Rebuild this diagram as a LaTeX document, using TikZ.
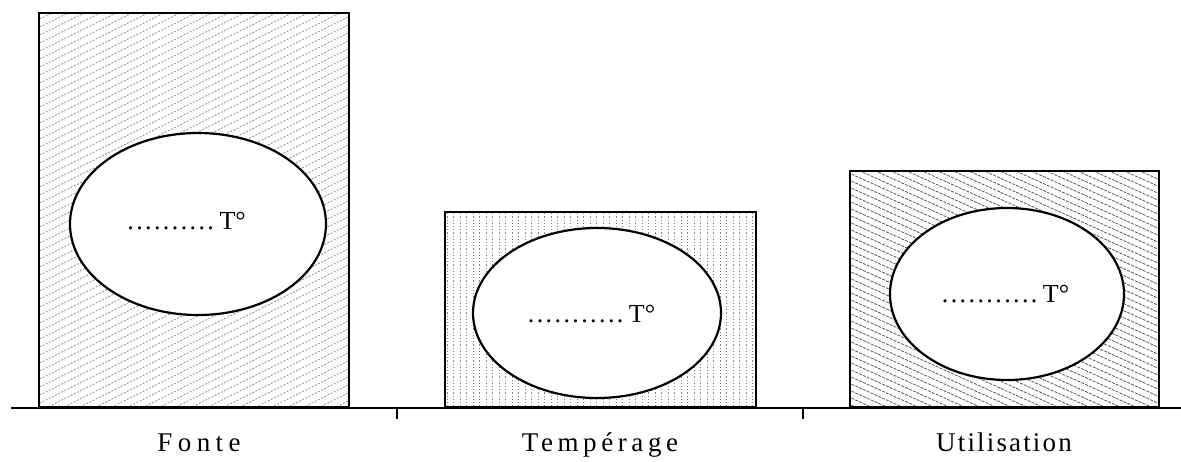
\documentclass[tikz,border=0pt]{standalone}
\usepackage{fontspec}
\setmainfont{Liberation Serif}
\usetikzlibrary{shapes.geometric}
\newcommand{\lsp}[2]{{\addfontfeature{LetterSpace=#1}#2}}
\newcommand{\tdots}[1]{\hbox to \dimexpr 8.9pt*#1\relax{\xleaders\hbox to 8.9pt{\hss.\hss}\hfill}}
\begin{document}
\begin{tikzpicture}[x=1pt,y=-1pt,
  box/.style={draw, line width=1.8pt, rectangle, inner sep=0pt, minimum width=310pt, anchor=south west},
  oval/.style={ellipse, draw, line width=2.2pt, fill=white, inner sep=0pt},
  hatch/.style={black!45, line width=0.7pt, dash pattern=on 2pt off 1.5pt},
  hatchv/.style={black!50, line width=0.7pt, dash pattern=on 1.2pt off 2pt},
  hatchd/.style={black!65, line width=0.8pt, dash pattern=on 3pt off 1.2pt},
  lbl/.style={font=\fontsize{27}{27}\selectfont, inner sep=0pt, anchor=base},
  temp/.style={font=\fontsize{26}{26}\selectfont, inner sep=0pt}]
\useasboundingbox (0,0) rectangle (1181,461);

% boxes
\node[box, minimum height=394pt] (fonte) at (38,408) {};
\node[box, minimum height=195pt, minimum width=311pt] (temp) at (444,408) {};
\node[box, minimum height=236pt, minimum width=309pt] (util) at (849,408) {};

% hatching
\begin{scope}
  \clip (fonte.south west) rectangle (fonte.north east);
  \foreach \c in {0,8,...,600} \draw[hatch] (30,\c) -- (360,\c-165);
\end{scope}
\begin{scope}
  \clip (temp.south west) rectangle (temp.north east);
  \foreach \x in {447,453.5,...,756} \draw[hatchv] (\x,210) -- (\x,410);
\end{scope}
\begin{scope}
  \clip (util.south west) rectangle (util.north east);
  \foreach \c in {-160,-153,...,420} \draw[hatchd] (840,\c) -- (1170,\c+148.5);
\end{scope}

% redraw borders
\node[box, minimum height=394pt] at (38,408) {};
\node[box, minimum height=195pt, minimum width=311pt] at (444,408) {};
\node[box, minimum height=236pt, minimum width=309pt] at (849,408) {};

% ellipses
\node[oval, minimum width=256pt, minimum height=182pt] (ef) at (198,224) {};
\node[oval, minimum width=248pt, minimum height=170pt] (et) at (597,313) {};
\node[oval, minimum width=234pt, minimum height=172pt] (eu) at (1007,294) {};

\node[temp] (tf) at (186,221) {\tdots{10}\,T°};
\node[temp] (tt) at (591,314) {\tdots{11}\,T°};
\node[temp] (tu) at (1005,294) {\tdots{11}\,T°};

% baseline and ticks
\coordinate (bl) at (11,408);
\coordinate (br) at (1181,408);
\draw[line width=2pt] (bl) -- (br);
\coordinate (k1) at (397,408);
\coordinate (k1e) at (397,419);
\coordinate (k2) at (803,408);
\coordinate (k2e) at (803,419);
\draw[line width=1.4pt] (k1) -- (k1e);
\draw[line width=1.4pt] (k2) -- (k2e);

% labels
\node[lbl] (lf) at (199,451) {\lsp{20}{Fonte}};
\node[lbl] (lt) at (600,451) {\lsp{17}{Tempérage}};
\node[lbl] (lu) at (1004,451) {\lsp{8}{Utilisation}};
\end{tikzpicture}
\end{document}
